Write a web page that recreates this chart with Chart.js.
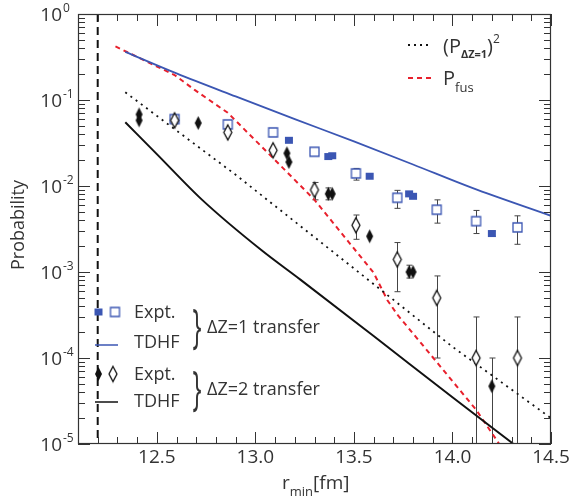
<!DOCTYPE html>
<html>
<head>
<meta charset="utf-8">
<script src="https://cdn.jsdelivr.net/npm/chart.js@4.4.1/dist/chart.umd.min.js"></script>
<style>html,body{margin:0;padding:0;background:#fff}</style>
</head>
<body>
<canvas id="myChart" width="571" height="502"></canvas>
<script>
// TDHF curves and derived quantities (r_min in fm, probability)
const tdhf1R = [12.34, 12.6, 12.9, 13.2, 13.5, 13.8, 14.1, 14.5];
const tdhf1P = [0.363, 0.204, 0.110, 0.060, 0.033, 0.0178, 0.0095, 0.0045];
const tdhf2R = [12.34, 12.50, 12.73, 13.03, 13.23, 13.60, 14.00, 14.31];
const tdhf2P = [0.055, 0.0235, 0.0069, 0.0018, 0.00081, 0.00018, 0.000035, 0.00001];
const sqR = [12.34, 12.9, 13.5, 14.0, 14.5];
const sqP = [0.123, 0.0135, 0.0011, 0.000135, 0.00002];
const fusR = [12.29, 12.59, 12.69, 12.86, 13.10, 13.30, 13.60, 13.67, 13.72, 13.90, 14.12, 14.24];
const fusP = [0.42, 0.195, 0.132, 0.071, 0.020, 0.0069, 0.00098, 0.00047, 0.00032, 0.000102, 0.000025, 0.0000098];
const rCut = 12.2;

// experiment, dZ=1
const z1OpenR = [12.59, 12.86, 13.09, 13.30, 13.51, 13.72, 13.92, 14.12, 14.33];
const z1OpenP = [0.060, 0.052, 0.042, 0.025, 0.014, 0.0073, 0.0053, 0.0039, 0.0033];
const z1OpenLo = [null, null, null, null, 0.0117, 0.0055, 0.0037, 0.0028, 0.0021];
const z1OpenHi = [null, null, null, null, 0.016, 0.0089, 0.0069, 0.0052, 0.0045];
const z1FillR = [13.17, 13.37, 13.39, 13.58, 13.78, 13.80, 14.20];
const z1FillP = [0.034, 0.022, 0.0225, 0.013, 0.0081, 0.0076, 0.0028];
const z1FillLo = [null, null, null, null, null, null, 0.0026];
const z1FillHi = [null, null, null, null, null, null, 0.0030];

// experiment, dZ=2
const z2OpenR = [12.59, 12.86, 13.09, 13.30, 13.51, 13.72, 13.92, 14.12, 14.33];
const z2OpenP = [0.058, 0.042, 0.026, 0.009, 0.0035, 0.0014, 0.0005, 0.0001, 0.0001];
const z2OpenLo = [null, null, null, 0.0069, 0.0024, 0.00059, 0.0001, 0.000001, 0.000001];
const z2OpenHi = [null, null, null, 0.011, 0.0046, 0.0022, 0.0009, 0.0003, 0.0003];
const z2FillR = [12.41, 12.41, 12.71, 13.16, 13.17, 13.37, 13.39, 13.58, 13.78, 13.80, 14.20];
const z2FillP = [0.068, 0.058, 0.054, 0.024, 0.019, 0.0081, 0.0081, 0.0026, 0.0010, 0.0010, 0.000047];
const z2FillLo = [null, null, null, null, null, 0.0069, null, null, 0.00085, null, 0.000001];
const z2FillHi = [null, null, null, null, null, 0.0095, null, null, 0.0012, null, 0.0001];

const xTickLabels = ['12.5', '13.0', '13.5', '14.0', '14.5'];
const yDecades = [0, -1, -2, -3, -4, -5];

const BLUE = '#3b56b3';
const RED = '#e8202c';
const INK = '#333';
const F = '"Open Sans", sans-serif';

const pts = (xs, ys) => xs.map((v, i) => ({x: v, y: ys[i]}));

function marker(shape, w, h, fill, stroke, lw) {
  const c = document.createElement('canvas');
  c.width = w + 4; c.height = h + 4;
  const g = c.getContext('2d');
  const cx = c.width / 2, cy = c.height / 2;
  g.beginPath();
  if (shape === 'diamond') {
    g.moveTo(cx, cy - h / 2); g.lineTo(cx + w / 2, cy);
    g.lineTo(cx, cy + h / 2); g.lineTo(cx - w / 2, cy); g.closePath();
  } else {
    g.rect(cx - w / 2, cy - h / 2, w, h);
  }
  if (fill) { g.fillStyle = fill; g.fill(); }
  if (stroke) { g.strokeStyle = stroke; g.lineWidth = lw; g.stroke(); }
  return c;
}

const mSqOpen = marker('rect', 9, 9, '#fff', BLUE, 1.3);
const mSqFill = marker('rect', 8, 7, BLUE, null, 0);
const mDmOpen = marker('diamond', 8, 15, '#fff', '#111', 1.3);
const mDmFill = marker('diamond', 7, 14, '#111', null, 0);

const errorSets = [
  {r: z1OpenR, lo: z1OpenLo, hi: z1OpenHi},
  {r: z1FillR, lo: z1FillLo, hi: z1FillHi},
  {r: z2OpenR, lo: z2OpenLo, hi: z2OpenHi},
  {r: z2FillR, lo: z2FillLo, hi: z2FillHi}
];

function sub(ctx, parts, x, y) {
  // parts: [text, size, dy, weight]
  ctx.textAlign = 'left';
  ctx.textBaseline = 'middle';
  parts.forEach(p => {
    ctx.font = (p[3] || '') + ' ' + p[1] + 'px ' + F;
    ctx.fillText(p[0], x, y + p[2]);
    x += ctx.measureText(p[0]).width + (p[4] || 0);
  });
  return x;
}

const decorations = {
  id: 'decorations',
  beforeDatasetsDraw(chart) {
    const {ctx, chartArea: a, scales: {x, y}} = chart;
    ctx.save();
    ctx.beginPath();
    ctx.rect(a.left, a.top, a.right - a.left, a.bottom - a.top);
    ctx.clip();
    ctx.strokeStyle = '#444';
    ctx.lineWidth = 1;
    errorSets.forEach(s => {
      s.r.forEach((r, i) => {
        if (s.lo[i] == null) return;
        const px = Math.round(x.getPixelForValue(r)) + 0.5;
        const y1 = y.getPixelForValue(s.hi[i]);
        const y2 = y.getPixelForValue(s.lo[i]);
        ctx.beginPath();
        ctx.moveTo(px, y1); ctx.lineTo(px, y2);
        ctx.moveTo(px - 3, y1); ctx.lineTo(px + 3, y1);
        ctx.moveTo(px - 3, y2); ctx.lineTo(px + 3, y2);
        ctx.stroke();
      });
    });
    ctx.restore();
  },
  afterDraw(chart) {
    const {ctx, chartArea: a, scales: {x, y}} = chart;
    ctx.save();
    // frame
    ctx.strokeStyle = INK;
    ctx.lineWidth = 1.2;
    ctx.strokeRect(a.left + 0.5, a.top + 0.5, a.right - a.left - 1, a.bottom - a.top - 1);
    // x ticks (inside, mirrored)
    ctx.lineWidth = 1;
    ctx.beginPath();
    for (let i = 121; i <= 145; i++) {
      const px = Math.round(x.getPixelForValue(i / 10)) + 0.5;
      const len = i % 5 === 0 ? 12 : 7;
      ctx.moveTo(px, a.bottom); ctx.lineTo(px, a.bottom - len);
      ctx.moveTo(px, a.top); ctx.lineTo(px, a.top + len);
    }
    // y ticks
    yDecades.forEach(k => {
      for (let m = 1; m <= 9; m++) {
        if (k === 0 && m > 1) break;
        const py = Math.round(y.getPixelForValue(m * Math.pow(10, k))) + 0.5;
        const len = m === 1 ? 12 : 7;
        ctx.moveTo(a.left, py); ctx.lineTo(a.left + len, py);
        ctx.moveTo(a.right, py); ctx.lineTo(a.right - len, py);
      }
    });
    ctx.stroke();

    // tick labels
    ctx.fillStyle = INK;
    ctx.textBaseline = 'middle';
    yDecades.forEach(k => {
      const py = y.getPixelForValue(Math.pow(10, k));
      ctx.font = '19px ' + F;
      ctx.textAlign = 'right';
      ctx.fillText('10', 62, py + 2);
      ctx.font = '12px ' + F;
      ctx.textAlign = 'left';
      ctx.fillText(k === 0 ? '0' : '-' + (-k), 63, py - 5);
    });
    ctx.font = '19px ' + F;
    ctx.textAlign = 'center';
    xTickLabels.forEach(t => {
      ctx.fillText(t, x.getPixelForValue(parseFloat(t)), 458);
    });

    // axis titles
    sub(ctx, [['r', 19, 0], ['min', 13, 8], ['[fm]', 19, 0]], 282, 484);
    ctx.save();
    ctx.translate(19, 225);
    ctx.rotate(-Math.PI / 2);
    ctx.font = '18px ' + F;
    ctx.textAlign = 'center';
    ctx.fillText('Probability', 0, 0);
    ctx.restore();

    // upper-right legend
    ctx.lineWidth = 1.8;
    ctx.strokeStyle = '#111';
    ctx.setLineDash([2, 4]);
    ctx.beginPath(); ctx.moveTo(408, 45); ctx.lineTo(432, 45); ctx.stroke();
    ctx.lineWidth = 2;
    ctx.strokeStyle = RED;
    ctx.setLineDash([5, 4]);
    ctx.beginPath(); ctx.moveTo(408, 78); ctx.lineTo(435, 78); ctx.stroke();
    ctx.setLineDash([]);
    ctx.fillStyle = INK;
    sub(ctx, [['(P', 20, 0], ['\u0394Z=1', 11, 8, 'bold'], [')', 20, 0], ['2', 12, -7]], 443, 47);
    sub(ctx, [['P', 20, 0], ['fus', 13, 9]], 443, 79);

    // lower-left legend
    const drawM = (m, cx, cy) => ctx.drawImage(m, cx - m.width / 2, cy - m.height / 2);
    drawM(mSqFill, 98.5, 312);
    drawM(mSqOpen, 115, 312);
    drawM(mDmFill, 98.5, 374);
    drawM(mDmOpen, 113, 374);
    ctx.lineWidth = 1.5;
    ctx.strokeStyle = BLUE;
    ctx.beginPath(); ctx.moveTo(95, 345); ctx.lineTo(118, 345); ctx.stroke();
    ctx.strokeStyle = '#111';
    ctx.beginPath(); ctx.moveTo(95, 402); ctx.lineTo(118, 402); ctx.stroke();
    ctx.fillStyle = INK;
    ctx.font = '18px ' + F;
    ctx.textAlign = 'left';
    ctx.textBaseline = 'middle';
    ctx.fillText('Expt.', 134, 313);
    ctx.fillText('TDHF', 134, 343);
    ctx.fillText('Expt.', 134, 375);
    ctx.fillText('TDHF', 134, 402);
    ctx.fillText('\u0394Z=1 transfer', 207, 328);
    ctx.fillText('\u0394Z=2 transfer', 207, 390);
    [329, 391].forEach(cy => {
      ctx.save();
      ctx.translate(197, cy);
      ctx.scale(1, 2.0);
      ctx.font = '24px ' + F;
      ctx.textAlign = 'center';
      ctx.textBaseline = 'middle';
      ctx.fillText('}', 0, 0);
      ctx.restore();
    });
    ctx.restore();
  }
};

const lineDs = (label, xs, ys, color, width, dash, interp) => ({
  label, data: pts(xs, ys), showLine: true, pointRadius: 0,
  borderColor: color, borderWidth: width, borderDash: dash,
  cubicInterpolationMode: interp ? 'monotone' : 'default', tension: 0
});
const markDs = (label, xs, ys, style) => ({
  label, data: pts(xs, ys), showLine: false, pointStyle: style,
  pointRadius: 5, pointHoverRadius: 5
});

new Chart(document.getElementById('myChart'), {
  type: 'scatter',
  data: {
    datasets: [
      markDs('dZ=2 expt (filled)', z2FillR, z2FillP, mDmFill),
      markDs('dZ=2 expt (open)', z2OpenR, z2OpenP, mDmOpen),
      markDs('dZ=1 expt (filled)', z1FillR, z1FillP, mSqFill),
      markDs('dZ=1 expt (open)', z1OpenR, z1OpenP, mSqOpen),
      lineDs('TDHF dZ=2', tdhf2R, tdhf2P, '#111', 2, [], true),
      lineDs('TDHF dZ=1', tdhf1R, tdhf1P, BLUE, 1.8, [], true),
      lineDs('(P dZ=1)^2', sqR, sqP, '#111', 1.8, [2, 4.5], false),
      lineDs('P fus', fusR, fusP, RED, 2, [5, 4], false),
      lineDs('r cut', [rCut, rCut], [1, 0.00001], '#111', 2, [8, 5], false)
    ]
  },
  options: {
    responsive: false,
    animation: false,
    events: [],
    layout: {padding: {left: 78, right: 20, top: 14, bottom: 58}, autoPadding: false},
    plugins: {legend: {display: false}, tooltip: {enabled: false}},
    scales: {
      x: {type: 'linear', min: 12.1, max: 14.5, display: false},
      y: {type: 'logarithmic', min: 0.00001, max: 1, display: false}
    }
  },
  plugins: [decorations]
});
</script>
</body>
</html>
